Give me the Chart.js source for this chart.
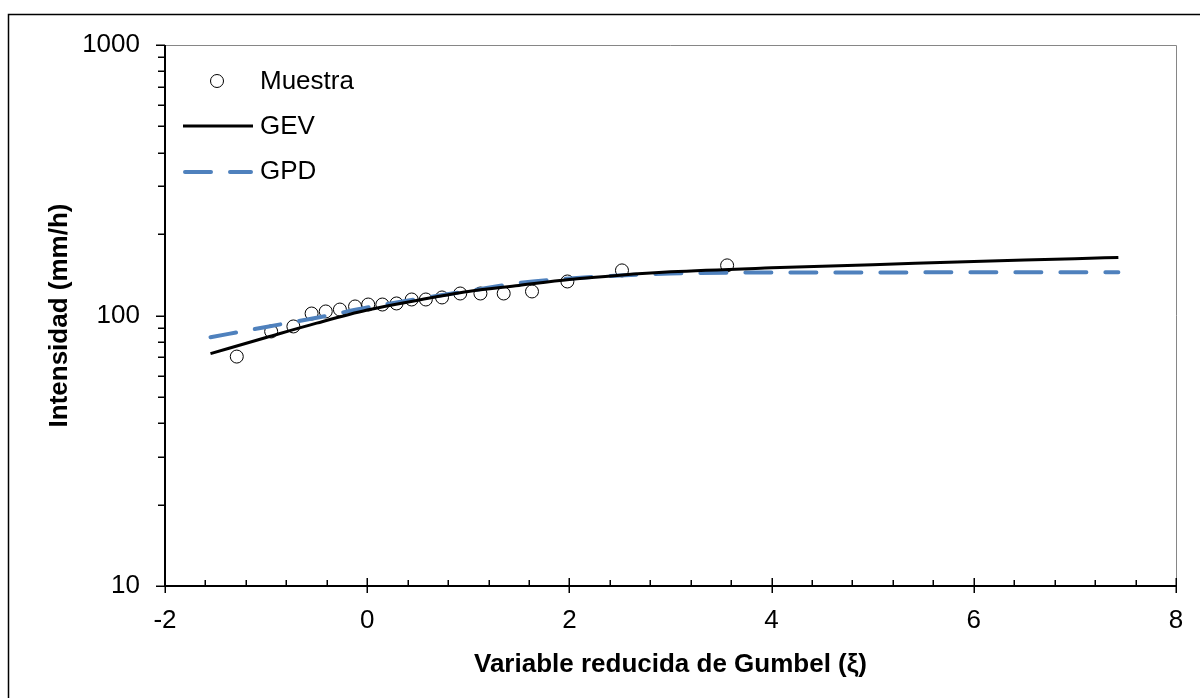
<!DOCTYPE html>
<html>
<head>
<meta charset="utf-8">
<script src="https://cdn.jsdelivr.net/npm/chart.js@4.4.1/dist/chart.umd.min.js"></script>
<style>
  body { margin: 0; background: #fff; }
  canvas { display: block; }
</style>
</head>
<body>
<canvas id="chart" width="1200" height="698"></canvas>
<script>
// Datos
const muestraX = [-1.29, -0.95, -0.73, -0.55, -0.41, -0.27, -0.12, 0.01, 0.15, 0.29, 0.44, 0.58, 0.74, 0.92, 1.12, 1.35, 1.63, 1.98, 2.52, 3.56];
const muestraY = [70.5, 87.3, 91.1, 101.7, 103.5, 105.2, 108.0, 109.8, 109.8, 110.8, 114.6, 114.6, 116.6, 120.6, 120.6, 120.6, 122.7, 133.6, 146.8, 153.2];

const curvaX = [-1.55, -1, -0.5, 0, 0.5, 1, 1.5, 2, 2.5, 3, 4, 5, 6, 7, 7.43];
const gevY = [72.3, 82.9, 93.7, 104.8, 113.9, 122.7, 129.2, 135.9, 141.0, 145.0, 150.0, 154.0, 158.5, 162.0, 164.0];
const gpdY = [83.1, 90.7, 98.1, 107.0, 115.2, 123.1, 131.9, 137.1, 140.6, 143.0, 144.2, 144.3, 144.4, 144.4, 144.4];

const xTicks = [-2, 0, 2, 4, 6, 8];
const yTicks = [10, 100, 1000];

const FONT = "'Liberation Sans', Arial, sans-serif";

function puntos(xs, ys) {
    return xs.map((x, i) => ({ x: x, y: ys[i] }));
}

// Ejes, marcas y leyenda dibujados a mano
const extras = {
    id: 'extras',
    afterDraw(chart) {
        const ctx = chart.ctx;
        const a = chart.chartArea;
        const sx = chart.scales.x;
        const sy = chart.scales.y;
        ctx.save();

        // borde exterior
        ctx.strokeStyle = '#000';
        ctx.lineWidth = 1.5;
        ctx.strokeRect(8.5, 14.5, 1400, 1000);

        // borde del área de trazado (arriba y derecha)
        ctx.strokeStyle = '#868686';
        ctx.lineWidth = 1;
        ctx.beginPath();
        ctx.moveTo(a.left, a.top + 0.5);
        ctx.lineTo(a.right + 0.5, a.top + 0.5);
        ctx.lineTo(a.right + 0.5, a.bottom);
        ctx.stroke();

        // ejes
        ctx.strokeStyle = '#000';
        ctx.lineWidth = 2;
        ctx.beginPath();
        ctx.moveTo(a.left, a.top);
        ctx.lineTo(a.left, a.bottom);
        ctx.lineTo(a.right, a.bottom);
        ctx.stroke();

        // marcas eje x
        ctx.lineWidth = 1.5;
        ctx.beginPath();
        for (let v = -2; v <= 8.001; v += 0.4) {
            const px = Math.round(sx.getPixelForValue(v)) + 0.25;
            const mayor = xTicks.some(t => Math.abs(t - v) < 0.01);
            if (mayor) {
                ctx.moveTo(px, a.bottom - 8);
                ctx.lineTo(px, a.bottom + 7);
            } else {
                ctx.moveTo(px, a.bottom - 6);
                ctx.lineTo(px, a.bottom);
            }
        }
        // marcas eje y
        for (let d = 10; d < 1000; d *= 10) {
            for (let k = 1; k <= 10; k++) {
                const v = d * k;
                const py = Math.round(sy.getPixelForValue(v)) + 0.25;
                const len = (k === 1 || k === 10) ? 9 : 7;
                ctx.moveTo(a.left - len, py);
                ctx.lineTo(a.left, py);
            }
        }
        ctx.stroke();

        // leyenda
        const ds = chart.data.datasets;
        ctx.font = '26px ' + FONT;
        ctx.fillStyle = '#000';
        ctx.textBaseline = 'middle';
        ctx.textAlign = 'left';

        ctx.lineWidth = 1;
        ctx.strokeStyle = '#000';
        ctx.beginPath();
        ctx.arc(217, 81, 6.5, 0, Math.PI * 2);
        ctx.stroke();
        ctx.fillText(ds[0].label, 260, 82);

        ctx.lineWidth = ds[1].borderWidth;
        ctx.strokeStyle = ds[1].borderColor;
        ctx.beginPath();
        ctx.moveTo(183, 126);
        ctx.lineTo(253, 126);
        ctx.stroke();
        ctx.fillText(ds[1].label, 260, 127);

        ctx.lineWidth = ds[2].borderWidth;
        ctx.strokeStyle = ds[2].borderColor;
        ctx.lineCap = 'round';
        ctx.setLineDash(ds[2].borderDash);
        ctx.beginPath();
        ctx.moveTo(185, 172);
        ctx.lineTo(251, 172);
        ctx.stroke();
        ctx.setLineDash([]);
        ctx.fillText(ds[2].label, 260, 172);

        ctx.restore();
    }
};

const ctx = document.getElementById('chart').getContext('2d');
const grafico = new Chart(ctx, {
    type: 'scatter',
    data: {
        datasets: [{
            label: 'Muestra',
            data: puntos(muestraX, muestraY),
            pointStyle: 'circle',
            pointRadius: 6.5,
            pointBorderWidth: 1,
            borderColor: '#000',
            backgroundColor: 'rgba(255,255,255,0)',
            showLine: false,
            order: 3
        }, {
            label: 'GEV',
            data: puntos(curvaX, gevY),
            showLine: true,
            borderColor: '#000',
            borderWidth: 3,
            pointRadius: 0,
            cubicInterpolationMode: 'monotone',
            order: 1
        }, {
            label: 'GPD',
            data: puntos(curvaX, gpdY),
            showLine: true,
            borderColor: '#4F81BD',
            borderWidth: 4,
            borderDash: [26, 19],
            borderCapStyle: 'round',
            pointRadius: 0,
            cubicInterpolationMode: 'monotone',
            order: 2
        }]
    },
    options: {
        responsive: false,
        animation: false,
        layout: { padding: { left: 0, top: 45, right: 24, bottom: 0 } },
        plugins: {
            legend: { display: false },
            tooltip: { enabled: false }
        },
        scales: {
            x: {
                type: 'linear',
                min: -2,
                max: 8,
                grid: { display: false },
                border: { display: false },
                ticks: {
                    stepSize: 2,
                    color: '#000',
                    padding: 11,
                    font: { family: FONT, size: 26 }
                },
                title: {
                    display: true,
                    text: 'Variable reducida de Gumbel (ξ)',
                    color: '#000',
                    font: { family: FONT, size: 26, weight: 'bold' },
                    padding: { top: 0, bottom: 18 }
                },
                afterFit(scale) { scale.height = 112; }
            },
            y: {
                type: 'logarithmic',
                min: 10,
                max: 1000,
                grid: { display: false },
                border: { display: false },
                ticks: {
                    color: '#000',
                    padding: 17,
                    font: { family: FONT, size: 26 },
                    callback: function (v) {
                        return yTicks.includes(v) ? String(v) : '';
                    }
                },
                title: {
                    display: true,
                    text: 'Intensidad (mm/h)',
                    color: '#000',
                    font: { family: FONT, size: 26, weight: 'bold' },
                    padding: { top: 44, bottom: 0 }
                },
                afterFit(scale) { scale.width = 165; }
            }
        }
    },
    plugins: [extras]
});
</script>
</body>
</html>
